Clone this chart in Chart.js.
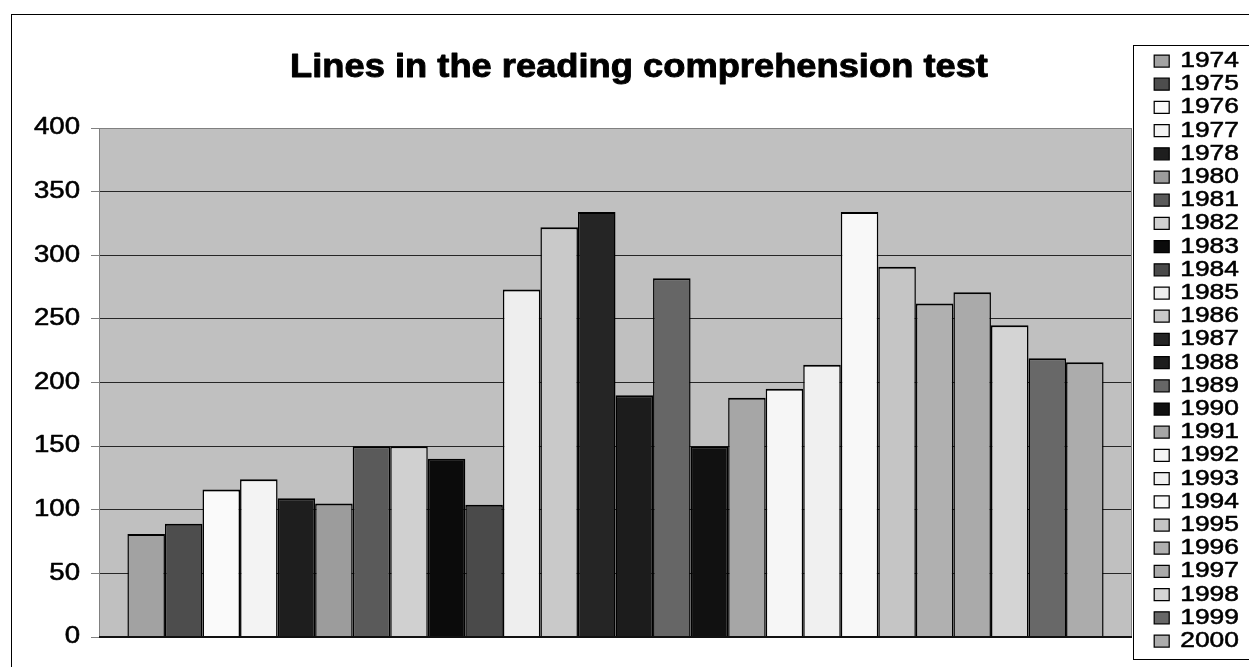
<!DOCTYPE html>
<html>
<head>
<meta charset="utf-8">
<title>Lines in the reading comprehension test</title>
<script src="https://cdn.jsdelivr.net/npm/chart.js@4/dist/chart.umd.min.js"></script>
<style>
  html, body { margin: 0; padding: 0; background: #fff; overflow: hidden; width: 1249px; height: 667px; }
  #frame { position: absolute; left: 11px; top: 14px; width: 1254px; height: 672px; border: 1px solid #000; background: #fff; }
  #frame canvas { display: block; }
</style>
</head>
<body>
<div id="frame"><canvas id="chart"></canvas></div>
<script>
// ---- data ----
const TITLE = 'Lines in the reading comprehension test';
const CATEGORIES = [''];
const YEARS = ['1974', '1975', '1976', '1977', '1978', '1980', '1981', '1982', '1983', '1984',
               '1985', '1986', '1987', '1988', '1989', '1990', '1991', '1992', '1993', '1994',
               '1995', '1996', '1997', '1998', '1999', '2000'];
const LINES = [81, 89, 116, 124, 109, 105, 150, 150, 140, 104,
               273, 322, 334, 190, 282, 150, 188, 195, 214, 334,
               291, 262, 271, 245, 219, 216];
const Y_MIN = 0;
const Y_MAX = 400;
const Y_STEP = 50;

// ---- styling ----
const FILLS = ['#a2a2a2', '#4d4d4d', '#fafafa', '#f3f3f3', '#1e1e1e', '#9c9c9c', '#5a5a5a', '#d0d0d0', '#0b0b0b', '#4a4a4a',
               '#eeeeee', '#c9c9c9', '#252525', '#1c1c1c', '#666666', '#111111', '#a6a6a6', '#f6f6f6', '#f0f0f0', '#f8f8f8',
               '#c5c5c5', '#b0b0b0', '#aaaaaa', '#d4d4d4', '#686868', '#acacac'];
const FONT = '"Liberation Sans", Arial, sans-serif';
const GLYPH_STRETCH = 1.2;        // body lettering is set in a horizontally widened face
const TITLE_STRETCH = 1.1;        // the heading is widened a little less
const LEGEND_WIDTH = 134;

// Widen every glyph around its anchor point, so left/right/center alignment is preserved,
// and give the strokes a touch more weight.
function widenText(ctx) {
  const fill = ctx.fillText.bind(ctx);
  const stroke = ctx.strokeText.bind(ctx);
  const measure = ctx.measureText.bind(ctx);
  const factor = (c) => (/bold/.test(c.font) ? TITLE_STRETCH : GLYPH_STRETCH);
  ctx.fillText = function (text, x, y, maxWidth) {
    const k = factor(this);
    const bold = /bold/.test(this.font);
    this.save();
    this.translate(x, y);
    this.scale(k, 1);
    if (maxWidth === undefined) fill(text, 0, 0);
    else fill(text, 0, 0, maxWidth / k);
    this.strokeStyle = this.fillStyle;
    this.lineWidth = bold ? 0.9 : 0.55;
    this.lineJoin = 'round';
    if (maxWidth === undefined) stroke(text, 0, 0);
    else stroke(text, 0, 0, maxWidth / k);
    this.restore();
  };
  ctx.measureText = function (text) {
    const k = factor(this);
    const m = measure(text);
    return {
      width: m.width * k,
      actualBoundingBoxAscent: m.actualBoundingBoxAscent,
      actualBoundingBoxDescent: m.actualBoundingBoxDescent,
      actualBoundingBoxLeft: m.actualBoundingBoxLeft * k,
      actualBoundingBoxRight: m.actualBoundingBoxRight * k
    };
  };
}

const plotDecor = {
  id: 'plotDecor',
  beforeInit(chart) {
    widenText(chart.ctx);
  },
  beforeLayout(chart) {
    const lg = chart.legend;
    if (lg && !lg.__fixedWidth) {
      const fit = lg.fit;
      lg.fit = function () { fit.call(this); this.width = LEGEND_WIDTH; };
      lg.__fixedWidth = true;
    }
  },
  afterLayout(chart) {
    const lg = chart.legend;
    if (!lg) return;
    lg.left = chart.chartArea.right + 21;
    lg.right = chart.width;
    lg.top = 33.8;
    lg.bottom = chart.height;
  },
  beforeDraw(chart) {
    const { ctx, chartArea: a } = chart;
    ctx.save();
    ctx.fillStyle = '#c0c0c0';
    ctx.fillRect(a.left, a.top, a.right - a.left, a.bottom - a.top);
    ctx.restore();
  },
  beforeDatasetsDraw(chart) {
    const { ctx, chartArea: a } = chart;
    ctx.save();
    ctx.strokeStyle = '#808080';
    ctx.lineWidth = 1;
    ctx.beginPath();
    ctx.moveTo(Math.round(a.right) - 0.5, a.top);
    ctx.lineTo(Math.round(a.right) - 0.5, a.bottom);
    ctx.stroke();
    ctx.restore();
  },
  afterDatasetsDraw(chart) {
    const { ctx, chartArea: a } = chart;
    ctx.save();
    ctx.strokeStyle = '#111';
    ctx.lineWidth = 2;
    ctx.beginPath();
    ctx.moveTo(a.left, Math.round(a.bottom));
    ctx.lineTo(a.right, Math.round(a.bottom));
    ctx.stroke();
    ctx.restore();
  },
  afterDraw(chart) {
    const { ctx, chartArea: a } = chart;
    ctx.save();
    ctx.strokeStyle = '#000';
    ctx.lineWidth = 1;
    ctx.strokeRect(Math.round(a.right) + 1.5, 30.5, 300, 614);
    ctx.restore();
  }
};

const datasets = YEARS.map((year, i) => ({
  label: year,
  data: [LINES[i]],
  backgroundColor: FILLS[i],
  borderColor: '#000',
  borderWidth: { top: 2, left: 1.5, right: 1.5, bottom: 0 },
  borderSkipped: false,
  categoryPercentage: 0.945,
  barPercentage: 1
}));

new Chart(document.getElementById('chart'), {
  type: 'bar',
  data: { labels: CATEGORIES, datasets },
  options: {
    responsive: true,
    maintainAspectRatio: false,
    animation: false,
    devicePixelRatio: 1,
    layout: { padding: { left: 0, right: 0, top: 0, bottom: 50 } },
    plugins: {
      title: {
        display: true,
        text: TITLE,
        color: '#000',
        font: { family: FONT, size: 33, weight: 'bold' },
        padding: { top: 33.2, bottom: 40.2 }
      },
      legend: {
        position: 'right',
        align: 'start',
        labels: {
          color: '#000',
          font: { family: FONT, size: 22 },
          boxWidth: 15,
          boxHeight: 12,
          padding: 1.2
        }
      },
      tooltip: { enabled: false }
    },
    scales: {
      x: { display: false },
      y: {
        min: Y_MIN,
        max: Y_MAX,
        ticks: {
          stepSize: Y_STEP,
          color: '#000',
          font: { family: FONT, size: 23 },
          padding: 11
        },
        grid: {
          color: (c) => (c.tick && c.tick.value === Y_MAX ? '#808080' : '#262626'),
          tickColor: '#808080',
          tickLength: 8,
          lineWidth: 1
        },
        border: { color: '#808080', width: 1 },
        afterFit(scale) { scale.width = 87; }
      }
    }
  },
  plugins: [plotDecor]
});
</script>
</body>
</html>
